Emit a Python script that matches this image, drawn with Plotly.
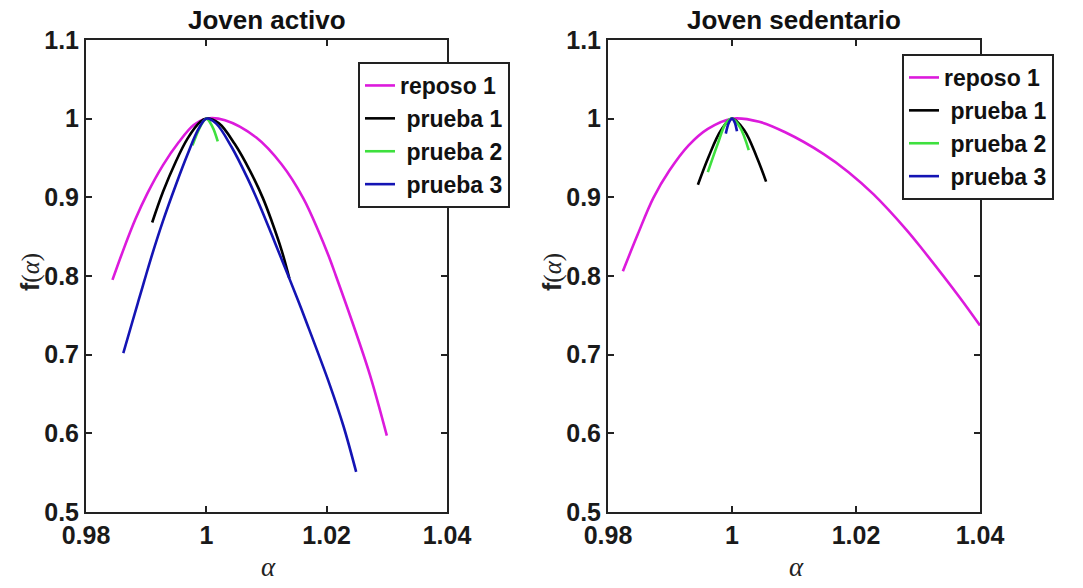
import plotly.graph_objects as go

# ---- Joven activo ----
act_reposo1_x = [0.9844, 0.9861, 0.9882, 0.9902, 0.9928, 0.9954, 0.9979, 1.0000, 1.0031, 1.0083,
                 1.0125, 1.0161, 1.0187, 1.0203, 1.0215, 1.0241, 1.0272, 1.0300]
act_reposo1_y = [0.795, 0.831, 0.872, 0.905, 0.941, 0.970, 0.992, 1.000, 0.998, 0.976,
                 0.942, 0.899, 0.856, 0.826, 0.801, 0.745, 0.674, 0.597]

act_prueba1_x = [0.9910, 0.9928, 0.9949, 0.9969, 0.9990, 1.0000, 1.0021, 1.0047, 1.0073, 1.0094,
                 1.0109, 1.0125, 1.0138]
act_prueba1_y = [0.868, 0.907, 0.945, 0.975, 0.996, 1.000, 0.994, 0.968, 0.933, 0.899,
                 0.869, 0.833, 0.797]

act_prueba2_x = [0.9977, 0.9990, 1.0000, 1.0010, 1.0019]
act_prueba2_y = [0.966, 0.990, 1.000, 0.990, 0.971]

act_prueba3_x = [0.9862, 0.9876, 0.9887, 0.9897, 0.9907, 0.9928, 0.9949, 0.9969, 0.9987, 1.0000,
                 1.0016, 1.0042, 1.0068, 1.0088, 1.0109, 1.0130, 1.0153, 1.0164, 1.0205, 1.0228,
                 1.0249]
act_prueba3_y = [0.702, 0.739, 0.768, 0.794, 0.820, 0.870, 0.915, 0.955, 0.987, 1.000,
                 0.994, 0.964, 0.925, 0.891, 0.852, 0.812, 0.768, 0.746, 0.662, 0.609,
                 0.551]

# ---- Joven sedentario ----
sed_reposo1_x = [0.9824, 0.9848, 0.9873, 0.9899, 0.9930, 0.9961, 1.0000, 1.0044, 1.0085, 1.0148,
                 1.0188, 1.0228, 1.0281, 1.0308, 1.0367, 1.0400]
sed_reposo1_y = [0.806, 0.853, 0.899, 0.934, 0.966, 0.987, 1.000, 0.996, 0.983, 0.955,
                 0.932, 0.904, 0.859, 0.833, 0.773, 0.737]

sed_prueba1_x = [0.9945, 0.9962, 0.9982, 1.0000, 1.0020, 1.0040, 1.0055]
sed_prueba1_y = [0.916, 0.951, 0.985, 1.000, 0.985, 0.951, 0.920]

sed_prueba2_x = [0.9961, 0.9977, 0.9990, 1.0000, 1.0013, 1.0027]
sed_prueba2_y = [0.932, 0.968, 0.994, 1.000, 0.989, 0.960]

sed_prueba3_x = [0.9990, 0.9995, 1.0000, 1.0004, 1.0008]
sed_prueba3_y = [0.981, 0.995, 1.000, 0.996, 0.984]

series_names = ["reposo 1", "&nbsp;prueba 1", "&nbsp;prueba 2", "&nbsp;prueba 3"]
series_colors = ["#dc1adc", "#000000", "#3ee03e", "#1414b4"]

x_ticks = [0.98, 1.0, 1.02, 1.04]
x_ticktext = ["0.98", "1", "1.02", "1.04"]
y_ticks = [0.5, 0.6, 0.7, 0.8, 0.9, 1.0, 1.1]
y_ticktext = ["0.5", "0.6", "0.7", "0.8", "0.9", "1", "1.1"]

panel_titles = ["Joven activo", "Joven sedentario"]

W, H = 1083, 588
SANS = "Liberation Sans, Arial, sans-serif"
SERIF = "Liberation Serif, Times New Roman, serif"
AXC = "#222222"

panels = [
    [(act_reposo1_x, act_reposo1_y), (act_prueba1_x, act_prueba1_y),
     (act_prueba2_x, act_prueba2_y), (act_prueba3_x, act_prueba3_y)],
    [(sed_reposo1_x, sed_reposo1_y), (sed_prueba1_x, sed_prueba1_y),
     (sed_prueba2_x, sed_prueba2_y), (sed_prueba3_x, sed_prueba3_y)],
]

# axes boxes in pixels: (left, right, top, bottom)
boxes = [(86, 447, 40, 512), (608, 980, 40, 512)]
legend_pos = [(358, 62), (902, 54)]

fig = go.Figure()

for p, traces in enumerate(panels):
    xa = "x" if p == 0 else "x2"
    ya = "y" if p == 0 else "y2"
    lg = "legend" if p == 0 else "legend2"
    for (xs, ys), name, color in zip(traces, series_names, series_colors):
        fig.add_trace(go.Scatter(
            x=xs, y=ys, mode="lines", name=name,
            line=dict(color=color, width=2.6, shape="spline", smoothing=1.0),
            xaxis=xa, yaxis=ya, legend=lg, showlegend=True,
        ))

axis_common = dict(
    showline=True, linewidth=2, linecolor=AXC, mirror="ticks",
    ticks="inside", ticklen=6, tickwidth=2, tickcolor=AXC,
    showgrid=False, zeroline=False, automargin=False,
    tickfont=dict(family=SANS, size=25, color="#1a1a1a", weight="bold"),
)

layout = dict(
    width=W, height=H,
    margin=dict(l=0, r=0, t=0, b=0, autoexpand=False),
    paper_bgcolor="white", plot_bgcolor="white",
    showlegend=True,
)

annotations = []
for p, (l, r, t, b) in enumerate(boxes):
    suffix = "" if p == 0 else "2"
    layout["xaxis" + suffix] = dict(
        axis_common, domain=[l / W, r / W], range=[0.98, 1.04],
        tickvals=x_ticks, ticktext=x_ticktext, anchor="y" + suffix,
    )
    layout["yaxis" + suffix] = dict(
        axis_common, domain=[1 - b / H, 1 - t / H], range=[0.5, 1.1],
        tickvals=y_ticks, ticktext=y_ticktext, anchor="x" + suffix,
    )
    lx, ly = legend_pos[p]
    layout["legend" + suffix] = dict(
        x=lx / W, y=1 - ly / H, xanchor="left", yanchor="top",
        xref="paper", yref="paper",
        bgcolor="white", bordercolor=AXC, borderwidth=2,
        font=dict(family=SANS, size=23, color="#111111", weight="bold"),
        itemwidth=30, tracegroupgap=0,
    )
    cx = (l + r) / 2
    # panel title
    annotations.append(dict(
        text="<b>" + panel_titles[p] + "</b>", x=cx / W, y=1 - 20 / H,
        xref="paper", yref="paper", showarrow=False,
        font=dict(family=SANS, size=26, color="#111111"),
        xanchor="center", yanchor="middle",
    ))
    # x-axis label
    annotations.append(dict(
        text="<i>α</i>", x=(cx + 2) / W, y=1 - 567 / H,
        xref="paper", yref="paper", showarrow=False,
        font=dict(family=SERIF, size=27, color="#222222"),
        xanchor="center", yanchor="middle",
    ))
    # y-axis label
    annotations.append(dict(
        text="<b>f</b><span style='font-family:Liberation Serif'>(<i>α</i>)</span>",
        x=(l - 56) / W, y=1 - 272 / H,
        xref="paper", yref="paper", showarrow=False, textangle=-90,
        font=dict(family=SANS, size=25, color="#222222"),
        xanchor="center", yanchor="middle",
    ))

layout["annotations"] = annotations
fig.update_layout(**layout)

fig.write_html("out.html")
